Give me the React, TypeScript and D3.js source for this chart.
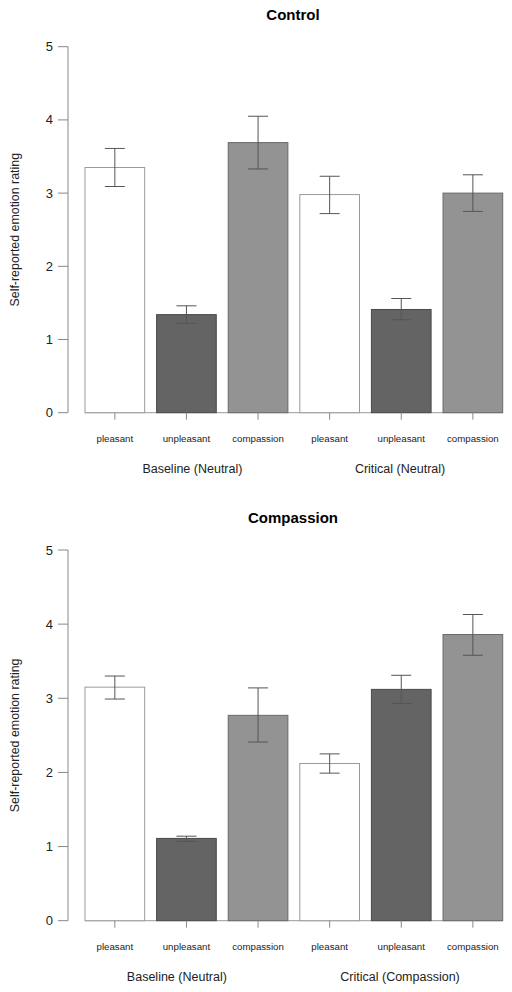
import React from "react";
import * as d3 from "d3";

const emotions = ["pleasant", "unpleasant", "compassion"];
const fills = ["#ffffff", "#646464", "#939393"];
const strokes = ["#9a9a9a", "#4a4a4a", "#6a6a6a"];
const yTicks = [0, 1, 2, 3, 4, 5];

const controlMeans = [3.35, 1.34, 3.69, 2.98, 1.41, 3.0];
const controlLow = [3.09, 1.22, 3.33, 2.72, 1.27, 2.75];
const controlHigh = [3.61, 1.46, 4.05, 3.23, 1.56, 3.25];

const compMeans = [3.15, 1.11, 2.77, 2.12, 3.12, 3.86];
const compLow = [2.99, 1.07, 2.41, 1.99, 2.93, 3.58];
const compHigh = [3.3, 1.14, 3.14, 2.25, 3.31, 4.13];

const controlGroups = ["Baseline (Neutral)", "Critical (Neutral)"];
const compGroups = ["Baseline (Neutral)", "Critical (Compassion)"];

const FONT = "'Liberation Sans', Arial, sans-serif";

type PanelProps = {
  title: string;
  titleY: number;
  top: number;
  bottom: number;
  means: number[];
  low: number[];
  high: number[];
  groups: string[];
  groupPos: number[];
};

function Panel({ title, titleY, top, bottom, means, low, high, groups, groupPos }: PanelProps) {
  const y = d3.scaleLinear().domain([0, 5]).range([bottom, top]);
  // barplot units: width 1, space 0.2
  const x = d3.scaleLinear().domain([0.2, 7.2]).range([85, 502.7]);
  const axisX = 68;
  const bars = means.map((m, i) => ({
    m,
    lo: low[i],
    hi: high[i],
    left: 0.2 + 1.2 * i,
    center: 0.7 + 1.2 * i,
    k: i % 3,
  }));
  const labelMid = (top + bottom) / 2;
  return (
    <g>
      <text x={293} y={titleY} textAnchor="middle" fontFamily={FONT} fontWeight="bold" fontSize={15} fill="#000">
        {title}
      </text>
      {/* y axis */}
      <line x1={axisX} x2={axisX} y1={y(0)} y2={y(5)} stroke="#888" strokeWidth={1} />
      {yTicks.map((t) => (
        <g key={t}>
          <line x1={axisX - 10} x2={axisX} y1={y(t)} y2={y(t)} stroke="#888" strokeWidth={1} />
          <text x={53} y={y(t) + 4.5} textAnchor="end" fontFamily={FONT} fontSize={13} fill="#222">
            {t}
          </text>
        </g>
      ))}
      <text
        transform={`translate(19,${labelMid}) rotate(-90)`}
        textAnchor="middle"
        fontFamily={FONT}
        fontSize={12.4}
        fill="#222"
      >
        Self-reported emotion rating
      </text>
      {/* x axis line */}
      <line x1={x(0.2)} x2={x(7.2)} y1={y(0)} y2={y(0)} stroke="#999" strokeWidth={1} />
      {bars.map((b, i) => (
        <g key={i}>
          <rect
            x={x(b.left)}
            y={y(b.m)}
            width={x(b.left + 1) - x(b.left)}
            height={y(0) - y(b.m)}
            fill={fills[b.k]}
            stroke={strokes[b.k]}
            strokeWidth={1}
          />
          <line x1={x(b.center)} x2={x(b.center)} y1={y(b.lo)} y2={y(b.hi)} stroke="#555" strokeWidth={1} />
          <line x1={x(b.center) - 10} x2={x(b.center) + 10} y1={y(b.hi)} y2={y(b.hi)} stroke="#555" strokeWidth={1} />
          <line x1={x(b.center) - 10} x2={x(b.center) + 10} y1={y(b.lo)} y2={y(b.lo)} stroke="#555" strokeWidth={1} />
          <line x1={x(b.center)} x2={x(b.center)} y1={y(0)} y2={y(0) + 7} stroke="#888" strokeWidth={1} />
          <text x={x(b.center)} y={y(0) + 29} textAnchor="middle" fontFamily={FONT} fontSize={9.7} fill="#222">
            {emotions[b.k]}
          </text>
        </g>
      ))}
      {groups.map((g, i) => (
        <text key={g + i} x={x(groupPos[i])} y={y(0) + 60} textAnchor="middle" fontFamily={FONT} fontSize={12.5} fill="#222">
          {g}
        </text>
      ))}
    </g>
  );
}

export default function App() {
  return (
    <svg
      width={512}
      height={992}
      style={{ position: "absolute", left: 0, top: 0, background: "#fff" }}
    >
      <rect x={0} y={0} width={512} height={992} fill="#fff" />
      <Panel
        title="Control"
        titleY={20}
        top={46.7}
        bottom={412.7}
        means={controlMeans}
        low={controlLow}
        high={controlHigh}
        groups={controlGroups}
        groupPos={[2.0, 5.48]}
      />
      <Panel
        title="Compassion"
        titleY={523}
        top={550}
        bottom={920.7}
        means={compMeans}
        low={compLow}
        high={compHigh}
        groups={compGroups}
        groupPos={[1.74, 5.48]}
      />
    </svg>
  );
}
